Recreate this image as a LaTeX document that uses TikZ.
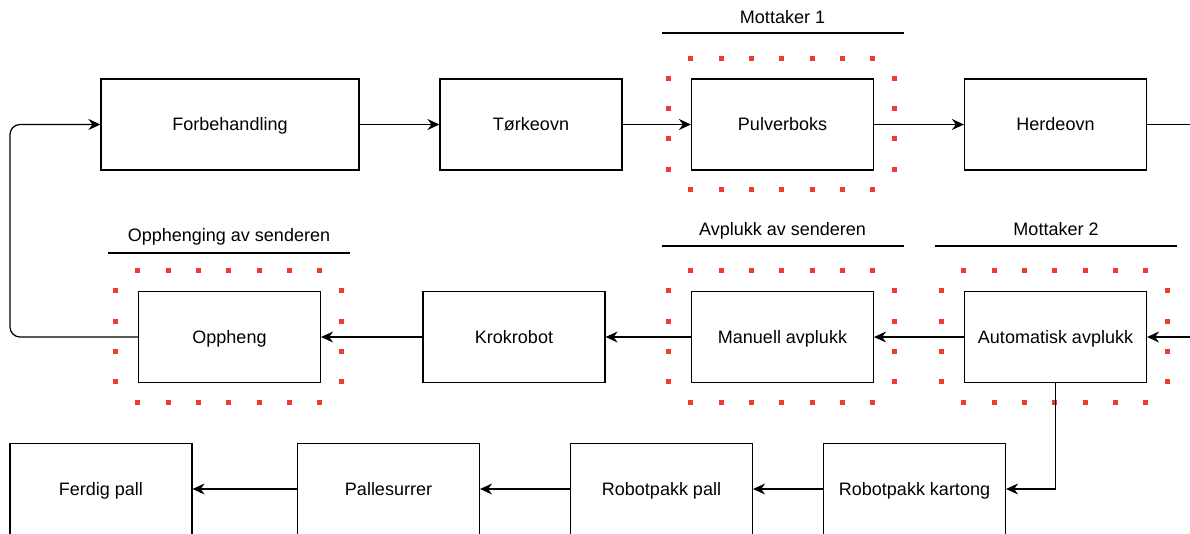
\documentclass[tikz,border=0pt]{standalone}
\usepackage{fontspec}
\setmainfont{Liberation Sans}
\usetikzlibrary{arrows.meta,positioning,calc}
\definecolor{framered}{HTML}{EE3B2F}

\tikzset{
  stage/.style={draw, line width=1.2pt, minimum width=182pt, minimum height=91pt, inner sep=0pt, text height=13pt, text depth=0pt},
  flow/.style={line width=1.2pt, -{Stealth[length=12pt,width=11pt,inset=4pt]}},
  redframe/.style={framered, line width=5pt, dash pattern=on 5pt off 25.3pt},
  grouptitle/.style={inner sep=0pt, text height=13pt, text depth=0pt},
}

% dotted red frame around one stage
\newcommand{\pickframe}[1]{%
  \draw[redframe] ([xshift=-2.5pt,yshift=20pt]#1.north west) -- ([xshift=2.5pt,yshift=20pt]#1.north east);
  \draw[redframe] ([xshift=-2.5pt,yshift=-19pt]#1.south west) -- ([xshift=2.5pt,yshift=-19pt]#1.south east);
  \draw[redframe] ([xshift=-22pt,yshift=2.5pt]#1.north west) -- ([xshift=-22pt,yshift=-2.5pt]#1.south west);
  \draw[redframe] ([xshift=20pt,yshift=2.5pt]#1.north east) -- ([xshift=20pt,yshift=-2.5pt]#1.south east);
}

\begin{document}
\begin{tikzpicture}[x=1pt, y=-1pt, font=\fontsize{18}{22}\selectfont]
\useasboundingbox (0,0) rectangle (1190,534);

% Row 1
\node[stage, minimum width=258pt] (forb) at (230,124.5) {Forbehandling};
\node[stage] (tork) at (531,124.5) {Tørkeovn};
\node[stage] (pulv) at (782.5,124.5) {Pulverboks};
\node[stage] (herde) at (1055.5,124.5) {Herdeovn};

% Row 2
\node[stage] (oppheng) at (229.5,337) {Oppheng};
\node[stage] (krok) at (514,337) {Krokrobot};
\node[stage] (manuell) at (782.5,337) {Manuell avplukk};
\node[stage] (auto) at (1055.5,337) {Automatisk avplukk};

% Row 3
\node[stage] (ferdig) at (101,489) {Ferdig pall};
\node[stage] (surrer) at (388.5,489) {Pallesurrer};
\node[stage] (rpall) at (661.5,489) {Robotpakk pall};
\node[stage] (kart) at (914.5,489) {Robotpakk kartong};

% Group titles
\node[grouptitle] (tmott1) at (782.5,17) {Mottaker 1};
\draw[line width=1.2pt] (662,33) -- (904,33);
\node[grouptitle] (topph) at (229,235) {Opphenging av senderen};
\draw[line width=1.2pt] (108,253) -- (350,253);
\node[grouptitle] (tavpl) at (782.5,229) {Avplukk av senderen};
\draw[line width=1.2pt] (662,246) -- (904,246);
\node[grouptitle] (tmott2) at (1056,229) {Mottaker 2};
\draw[line width=1.2pt] (935,246) -- (1177,246);

% Red frames
\pickframe{pulv}
\pickframe{oppheng}
\pickframe{manuell}
\pickframe{auto}

% Connectors
\coordinate (outR) at (1190,124.5);
\coordinate (inR) at (1190,337);
\coordinate (loopL) at (10,0);
\draw[flow] (forb) -- (tork);
\draw[flow] (tork) -- (pulv);
\draw[flow] (pulv) -- (herde);
\draw[line width=1.2pt] (herde.east) -- (outR);
\draw[flow] (inR) -- (auto.east);
\draw[flow] (auto) -- (manuell);
\draw[flow] (manuell) -- (krok);
\draw[flow] (krok) -- (oppheng);
\draw[flow, rounded corners=10pt] (oppheng.west) -- (oppheng.west -| loopL) -- (forb.west -| loopL) -- (forb.west);
\draw[flow] (auto.south) |- (kart.east);
\draw[flow] (kart) -- (rpall);
\draw[flow] (rpall) -- (surrer);
\draw[flow] (surrer) -- (ferdig);

\end{tikzpicture}
\end{document}
